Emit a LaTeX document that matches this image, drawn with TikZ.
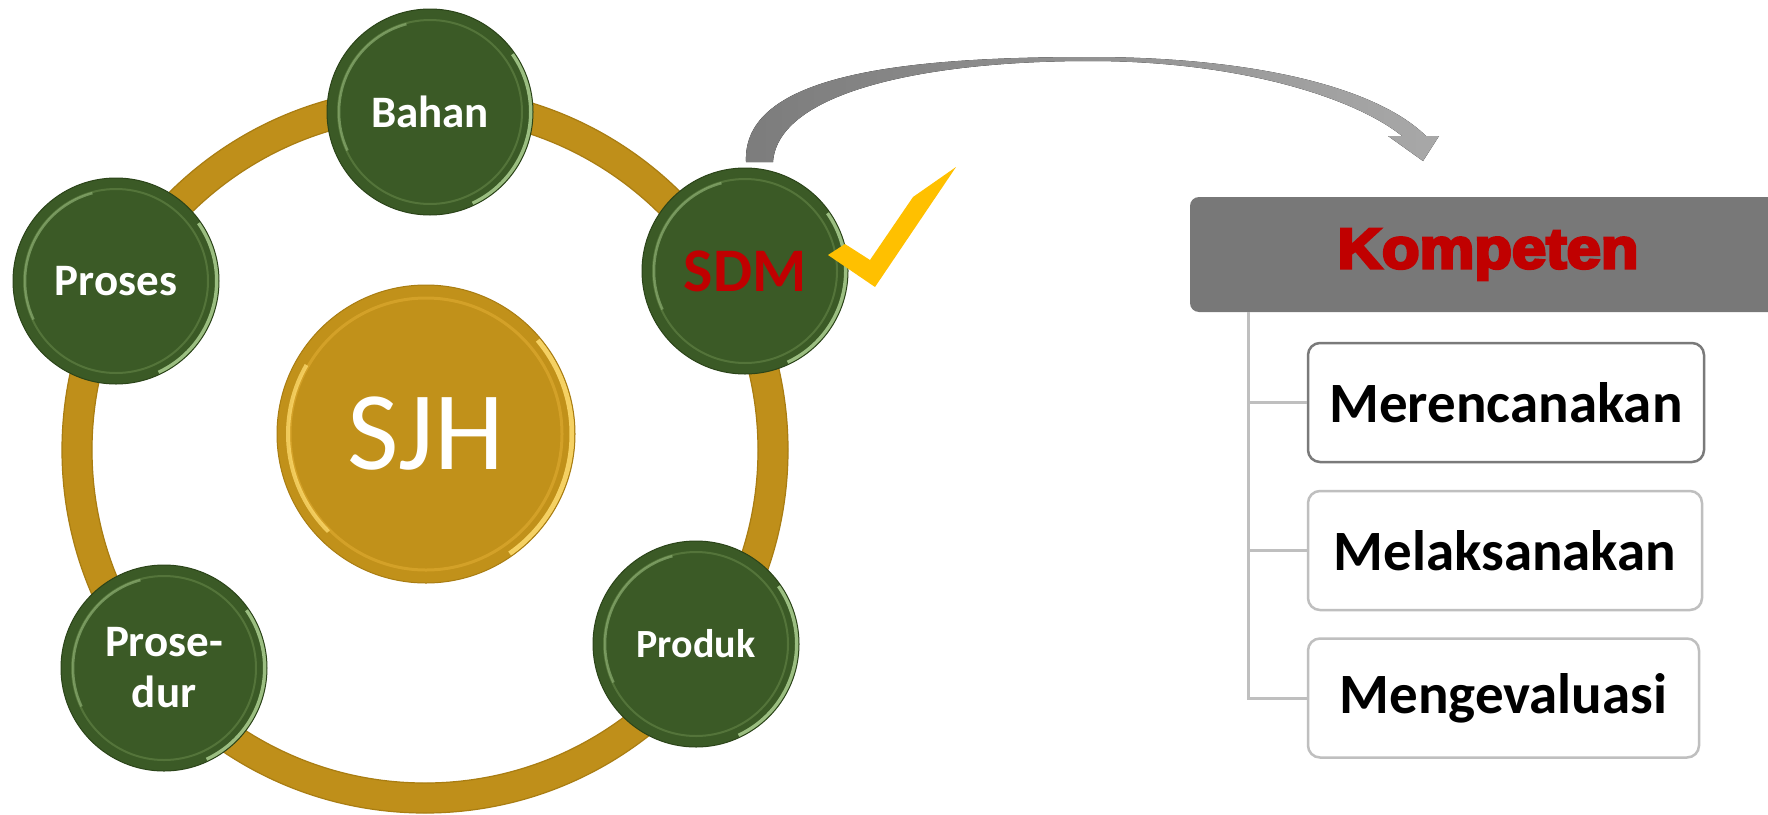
\documentclass[tikz,border=0pt]{standalone}
\usepackage{fontspec}
\setmainfont{Carlito}
\newfontfamily\headfont{Liberation Sans Bold}[FakeBold=5]
\usetikzlibrary{calc}

\definecolor{ringgold}{HTML}{BF8F1A}
\definecolor{ringedge}{HTML}{A97D12}
\definecolor{sjhgold}{HTML}{C1911A}
\definecolor{sjhrim}{HTML}{DCA82E}
\definecolor{sjhlight}{HTML}{FFDD70}
\definecolor{leaf}{HTML}{3B5A26}
\definecolor{leafdark}{HTML}{2B4419}
\definecolor{leafmid}{HTML}{5F8043}
\definecolor{leaflight}{HTML}{B4D898}
\definecolor{sdmred}{HTML}{C00000}
\definecolor{headgrey}{HTML}{787878}
\definecolor{arrowdark}{HTML}{7C7C7C}
\definecolor{arrowlight}{HTML}{A8A8A8}
\definecolor{tick}{HTML}{FFC000}
\definecolor{boxline}{HTML}{BFBFBF}
\definecolor{boxlinedark}{HTML}{7A7A7A}

\tikzset{
  gball/.style={circle, minimum size=206pt, inner sep=0pt, fill=leaf,
    draw=leafdark, line width=1pt, text=white, align=center,
    font=\bfseries\fontsize{45}{51}\selectfont,
    path picture={
      \draw[leafmid, line width=2pt, opacity=.7]
        (path picture bounding box.center) circle[radius=92pt];
      \draw[leaflight, line width=4pt, opacity=.8]
        (path picture bounding box.center) ++(-65:101pt)
        arc[start angle=-65, end angle=35, radius=101pt];
      \draw[leaflight!70!leaf, line width=2.5pt, opacity=.65]
        (path picture bounding box.center) ++(105:91pt)
        arc[start angle=105, end angle=205, radius=91pt];
    }},
  sjhball/.style={circle, minimum size=298pt, inner sep=0pt, fill=sjhgold,
    draw=ringedge, line width=1pt, text=white,
    font=\fontsize{112}{120}\selectfont,
    path picture={
      \draw[sjhrim, line width=3pt, opacity=.7]
        (path picture bounding box.center) circle[radius=136pt];
      \draw[sjhlight, line width=5pt, opacity=.85]
        (path picture bounding box.center) ++(-55:146pt)
        arc[start angle=-55, end angle=40, radius=146pt];
      \draw[sjhlight, line width=4pt, opacity=.75]
        (path picture bounding box.center) ++(150:138pt)
        arc[start angle=150, end angle=225, radius=138pt];
    }},
  kbox/.style={rectangle, rounded corners=9pt, fill=headgrey, inner sep=0pt,
    minimum width=596pt, minimum height=115pt, text=sdmred,
    font=\headfont\fontsize{57}{60}\selectfont},
  stepbox/.style={rectangle, rounded corners=12pt, draw=boxline,
    line width=2.5pt, fill=white, inner sep=0pt, minimum height=119pt,
    font=\bfseries\fontsize{57}{62}\selectfont},
  treeline/.style={draw=boxline, line width=3pt},
}

\begin{document}
\begin{tikzpicture}[x=1pt, y=-1pt]
\useasboundingbox[fill=white] (0,0) rectangle (1768,814);

% golden ring carrying the five elements
\draw[ringgold, line width=30pt] (425,450) circle[radius=348];
\draw[ringedge, line width=1.2pt] (425,450) circle[radius=363];
\draw[ringedge, line width=1.2pt] (425,450) circle[radius=333];

% centre disc
\node[sjhball] (sjh) at (426,434) {SJH};

% elements on the ring
\node[gball] (bahan) at (430,112) {Bahan};
\node[gball] (proses) at (116,281) {Proses};
\node[gball] (prosedur) at (164,668) {Prose-\\dur};
\node[gball, font=\bfseries\fontsize{40}{46}\selectfont] (produk) at (696,644) {Produk};
\node[gball, text=sdmred, font=\bfseries\fontsize{62}{66}\selectfont] (sdm) at (745,271) {SDM};

% curved tapered arrow from SDM to the competence panel
\coordinate (tail) at (759.5,162);
\coordinate (tip) at (1423,161);
\fill[left color=arrowdark, right color=arrowlight]
  ($(tail)+(-13.5,0)$) .. controls (742,75) and (900,57) .. (1090,57)
  .. controls (1250,57) and (1375,86) .. (1426,136)
  -- (1439,136) -- (tip) -- (1388,136) -- (1402,136)
  .. controls (1355,98) and (1240,61) .. (1090,61)
  .. controls (925,61) and (778,92) .. ($(tail)+(13.5,0)$) -- cycle;

% check mark beside SDM
\fill[tick] (828,255) -- (845,244) -- (870,260) -- (913,197)
  -- (956,167) -- (875,287) -- cycle;

% competence panel
\node[kbox] (komp) at (1488,254.5) {\scalebox{1.08}[1]{Kompeten}};
\coordinate (trunk) at (1248,312);

\node[stepbox, minimum width=396pt, draw=boxlinedark] (b1) at (1506,402.5) {Merencanakan};
\node[stepbox, minimum width=394pt] (b2) at (1505,550.5) {Melaksanakan};
\node[stepbox, minimum width=391pt] (b3) at (1503.5,698) {Mengevaluasi};

\draw[treeline] (trunk) |- (b3.west);
\draw[treeline] (trunk) |- (b2.west);
\draw[treeline] (trunk) |- (b1.west);
\end{tikzpicture}
\end{document}
